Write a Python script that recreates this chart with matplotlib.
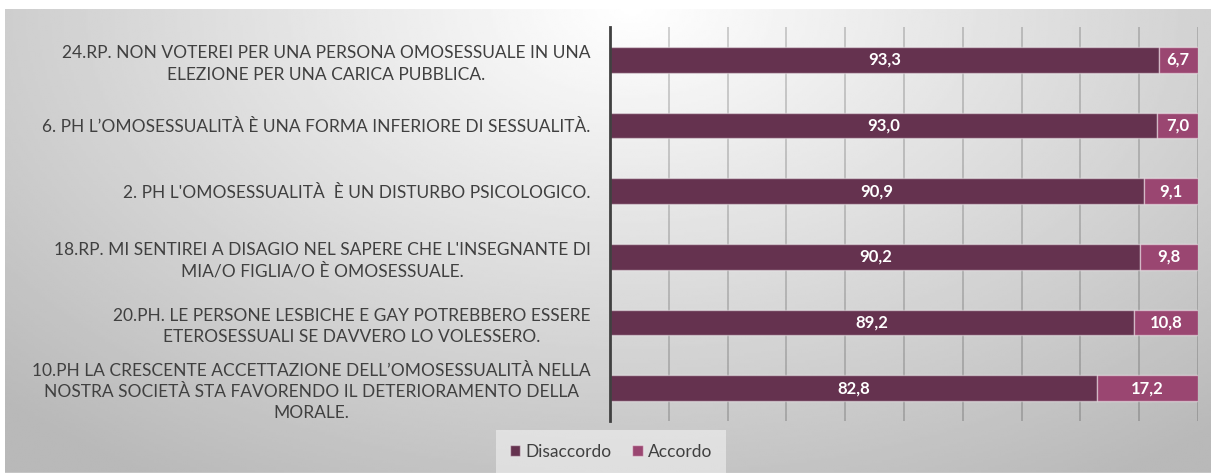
import numpy as np
import matplotlib
matplotlib.use('Agg')
import matplotlib.pyplot as plt
from matplotlib.patches import Patch

W, H = 1211, 473
DPI = 100

# data (top to bottom as in the chart)
labels = [
    '24.RP. NON VOTEREI PER UNA PERSONA OMOSESSUALE IN UNA\nELEZIONE PER UNA CARICA PUBBLICA.',
    '6. PH L\u2019OMOSESSUALIT\u00c0 \u00c8 UNA FORMA INFERIORE DI SESSUALIT\u00c0.',
    '2. PH L\'OMOSESSUALIT\u00c0  \u00c8 UN DISTURBO PSICOLOGICO.',
    '18.RP. MI SENTIREI A DISAGIO NEL SAPERE CHE L\'INSEGNANTE DI\nMIA/O FIGLIA/O \u00c8 OMOSESSUALE.',
    '20.PH. LE PERSONE LESBICHE E GAY POTREBBERO ESSERE\nETEROSESSUALI SE DAVVERO LO VOLESSERO.',
    '10.PH LA CRESCENTE ACCETTAZIONE DELL\u2019OMOSESSUALIT\u00c0 NELLA\nNOSTRA SOCIET\u00c0 STA FAVORENDO IL DETERIORAMENTO DELLA\nMORALE.',
]
disaccordo = [93.3, 93.0, 90.9, 90.2, 89.2, 82.8]
accordo = [6.7, 7.0, 9.1, 9.8, 10.8, 17.2]
series_names = ['Disaccordo', 'Accordo']

DARK = '#65324f'
LIGHT = '#9a4671'
FONT = ['Lato', 'DejaVu Sans']

plt.rcParams['font.family'] = FONT

fig = plt.figure(figsize=(W / DPI, H / DPI), dpi=DPI)
fig.patch.set_facecolor('white')

# gradient background panel
bg = fig.add_axes([5 / W, 0, 1 - 5 / W, (H - 9) / H])
bg.set_axis_off()
yy, xx = np.mgrid[0:1:200j, 0:1:500j]
dist = np.sqrt(((xx - 0.52) / 0.62) ** 2 + ((yy - 0.0) / 1.0) ** 2)
shade = 1.0 - 0.23 * np.clip(dist, 0, 1.2)
bg.imshow(shade, cmap='gray', vmin=0, vmax=1, aspect='auto',
          extent=[0, 1, 1, 0], interpolation='bilinear')
bg.axhline(1.0, color='#c8c8c8', lw=2)
bg.set_xlim(0, 1)
bg.set_ylim(1, 0)

ax = fig.add_axes([610 / W, (H - 421) / H, (1198 - 610) / W, (421 - 27) / H])
ax.patch.set_alpha(0)
y = np.arange(len(labels))
bar_h = 0.39
edge = (1, 1, 1, 0.45)
b1 = ax.barh(y, disaccordo, height=bar_h, color=DARK, edgecolor=edge, lw=1, zorder=3)
b2 = ax.barh(y, accordo, left=disaccordo, height=bar_h, color=LIGHT, edgecolor=edge, lw=1, zorder=3)

for rects, vals in ((b1, disaccordo), (b2, accordo)):
    for r, v in zip(rects, vals):
        ax.text(r.get_x() + r.get_width() / 2, r.get_y() + r.get_height() / 2,
                f'{v:.1f}'.replace('.', ','), ha='center', va='center',
                color='white', fontsize=12, fontweight='bold', zorder=4)

ax.set_xlim(0, 100)
ax.set_ylim(len(labels) - 0.5, -0.5)
ax.set_xticks(np.arange(0, 101, 10))
ax.set_xticklabels([])
ax.grid(axis='x', color='black', alpha=0.2, lw=1.2, zorder=1)
ax.tick_params(length=0)
ax.set_yticks(y)
ax.set_yticklabels(labels, fontsize=12.5, color='#404040', multialignment='center',
                   linespacing=1.4)
ax.tick_params(axis='y', pad=14)
for s in ['top', 'right', 'bottom']:
    ax.spines[s].set_visible(False)
ax.spines['left'].set_color('#404040')
ax.spines['left'].set_linewidth(2)
ax.spines['left'].set_zorder(5)

handles = [Patch(facecolor=DARK, edgecolor=edge), Patch(facecolor=LIGHT, edgecolor=edge)]
leg = fig.legend(handles, series_names, loc='center', bbox_to_anchor=(611 / W, (H - 452) / H),
                 ncol=2, fontsize=12.5, frameon=True, handlelength=0.6, handleheight=0.6,
                 handletextpad=0.3, columnspacing=1.2, labelcolor='#404040')
leg.get_frame().set_facecolor('white')
leg.get_frame().set_alpha(0.45)
leg.get_frame().set_edgecolor('none')
leg.get_frame().set_boxstyle('square', pad=0.4)

fig.savefig('out.png', dpi=DPI)
